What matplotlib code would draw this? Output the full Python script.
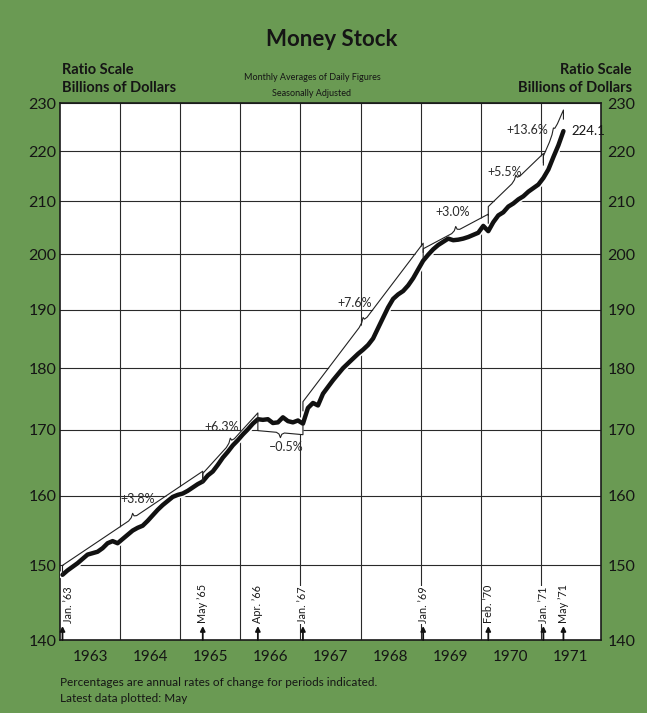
import numpy as np
import matplotlib
matplotlib.use("Agg")
import matplotlib.pyplot as plt
from matplotlib.ticker import FixedLocator, NullLocator, FixedFormatter
import matplotlib.transforms as mtransforms
import matplotlib.patheffects as pe

plt.rcParams['font.family'] = ['Lato', 'DejaVu Sans']

# ---------------- data ----------------
start_year = 1963
# Money stock, billions of dollars, monthly Jan 1963 .. May 1971
money_stock = [
    # 1963
    148.7, 149.3, 149.8, 150.3, 150.9, 151.5, 151.7, 151.9, 152.4, 153.1, 153.4, 153.1,
    # 1964
    153.7, 154.3, 154.9, 155.3, 155.6, 156.3, 157.1, 157.9, 158.6, 159.2, 159.8, 160.1,
    # 1965
    160.3, 160.7, 161.2, 161.7, 162.1, 163.0, 163.6, 164.6, 165.7, 166.6, 167.6, 168.4,
    # 1966
    169.3, 170.1, 171.0, 171.7, 171.6, 171.7, 171.1, 171.2, 172.0, 171.4, 171.2, 171.5,
    # 1967
    171.0, 173.5, 174.3, 173.9, 175.8, 176.9, 178.0, 179.0, 180.0, 180.8, 181.6, 182.4,
    # 1968
    183.1, 183.9, 185.0, 186.8, 188.6, 190.4, 191.9, 192.7, 193.3, 194.3, 195.6, 197.2,
    # 1969
    198.8, 199.9, 200.9, 201.7, 202.3, 202.9, 202.6, 202.7, 202.9, 203.2, 203.6, 204.0,
    # 1970
    205.3, 204.3, 206.0, 207.3, 207.9, 209.0, 209.6, 210.4, 211.0, 211.9, 212.6, 213.3,
    # 1971
    214.6, 216.3, 218.8, 221.2, 224.1,
]
# month index (from Jan 1963) of the period boundaries
period_bounds = [0, 28, 39, 48, 72, 85, 96, 100]
period_labels = ["Jan. \u201963", "May \u201965", "Apr. \u201966", "Jan. \u201967",
                 "Jan. \u201969", "Feb. \u201970", "Jan. \u201971", "May \u201971"]
# annual rates of change for the periods
period_rates = [3.8, 6.3, -0.5, 7.6, 3.0, 5.5, 13.6]
# level of trend line at start of each period
trend_start = [150.0, 163.3, 169.9, 174.5, 201.0, 209.0, 219.0]
years = [1963, 1964, 1965, 1966, 1967, 1968, 1969, 1970, 1971]
y_ticks = [140, 150, 160, 170, 180, 190, 200, 210, 220, 230]
latest_label = "224.1"

# ---------------- layout ----------------
W, H = 647, 713
fig = plt.figure(figsize=(W / 100, H / 100), dpi=100)
green = '#6a9a53'
fig.patch.set_facecolor(green)

ax_l, ax_r, ax_t, ax_b = 60, 601, 103, 640
ax = fig.add_axes([ax_l / W, 1 - ax_b / H, (ax_r - ax_l) / W, (ax_b - ax_t) / H])
ax.set_facecolor('white')
ax.set_yscale('log')
ax.set_ylim(140, 230)
ax.set_xlim(1963, 1972)

px_per_log = (ax_b - ax_t) / np.log(230 / 140)
px_per_year = (ax_r - ax_l) / 9.0

vals = np.array(money_stock)
t = start_year + (np.arange(len(vals)) + 0.5) / 12.0

# grid
ax.set_axisbelow(True)
ax.yaxis.set_major_locator(FixedLocator(y_ticks))
ax.yaxis.set_major_formatter(FixedFormatter([str(v) for v in y_ticks]))
ax.yaxis.set_minor_locator(NullLocator())
ax.xaxis.set_major_locator(FixedLocator([y + 0.5 for y in years]))
ax.xaxis.set_major_formatter(FixedFormatter([str(y) for y in years]))
ax.xaxis.set_minor_locator(FixedLocator(list(range(1964, 1972))))
ax.grid(which='minor', axis='x', color='#2a2a2a', lw=0.8)
ax.grid(which='major', axis='y', color='#2a2a2a', lw=0.8)
ax.grid(which='major', axis='x', visible=False)
ax.tick_params(axis='x', which='both', length=0, pad=7, labelsize=11, colors='#151515')
ax.tick_params(axis='y', which='both', length=0, pad=2.5, labelsize=11.5, colors='#151515',
               labelleft=True, labelright=False)
for s in ax.spines.values():
    s.set_color('#1a1a1a')
    s.set_linewidth(1.2)

ax2 = ax.twinx()
ax2.set_yscale('log')
ax2.set_ylim(140, 230)
ax2.yaxis.set_major_locator(FixedLocator(y_ticks))
ax2.yaxis.set_major_formatter(FixedFormatter([str(v) for v in y_ticks]))
ax2.yaxis.set_minor_locator(NullLocator())
ax2.tick_params(axis='y', which='both', length=0, pad=4.5, labelsize=11.5, colors='#151515')
for s in ax2.spines.values():
    s.set_visible(False)

# ---------------- braces ----------------
label_offsets = [(5, 19), (-9, 16), (6, -14), (-8, 19), (-3, 19), (-11, 8), (-26, 3)]

for k, rate in enumerate(period_rates):
    i0, i1 = period_bounds[k], period_bounds[k + 1]
    t0, t1 = t[i0], t[i1]
    dt = t1 - t0
    v0 = trend_start[k]
    v1 = v0 * (1 + rate / 100.0) ** dt
    up = rate >= 0
    sgn = 1 if up else -1
    line = lambda tt: v0 * (v1 / v0) ** ((tt - t0) / dt)
    fpx = lambda n: np.exp(sgn * n / px_per_log)
    # white fill between trend and data
    seg_t = t[i0:i1 + 1]
    ax.fill_between(seg_t, vals[i0:i1 + 1], line(seg_t), color='white', lw=0, zorder=1)
    # brace path
    tm = 0.5 * (t0 + t1)
    w = 4.0 / px_per_year
    bt = [t0, t0, tm - w, tm - w * 0.35, tm, tm + w * 0.35, tm + w, t1, t1]
    bv = [v0 * fpx(-9), v0, line(tm - w), line(tm - w * 0.35) * fpx(1.5),
          line(tm) * fpx(5), line(tm + w * 0.35) * fpx(1.5), line(tm + w), v1, v1 * fpx(-9)]
    ax.plot(bt, bv, color='#222222', lw=0.8, zorder=4, solid_joinstyle='round')
    lab = ('+' if up else '\u2013') + f"{abs(rate):.1f}%"
    dx, dy = label_offsets[k]
    ax.annotate(lab, xy=(tm, line(tm)), xytext=(dx, dy), textcoords='offset pixels',
                ha='center', va='center', fontsize=9, color='#2a2a2a', zorder=6)

# data line
ax.plot(t, vals, color='#111111', lw=3.2, zorder=3, solid_joinstyle='round',
        solid_capstyle='round',
        path_effects=[pe.Stroke(linewidth=5.5, foreground='white'), pe.Normal()])
ax.annotate(latest_label, xy=(t[-1], vals[-1]), xytext=(8, 0), textcoords='offset pixels',
            ha='left', va='center', fontsize=9.5, color='#151515', zorder=6)

# arrows at period boundaries
blend = mtransforms.blended_transform_factory(ax.transData, ax.transAxes)
for j, idx in enumerate(period_bounds):
    x = t[idx]
    ax.annotate('', xy=(x, 0.026), xytext=(x, 0.0), xycoords=blend, textcoords=blend,
                arrowprops=dict(arrowstyle='-|>', color='#111111', lw=1.3,
                                mutation_scale=7, shrinkA=0, shrinkB=0), zorder=5)
    ax.text(x, 0.031, period_labels[j], transform=blend, rotation=90,
            ha='left' if j == 0 else 'center', va='bottom', fontsize=7.8, color='#1a1a1a',
            zorder=5, bbox=dict(boxstyle='square,pad=0.1', fc='white', ec='none'))

# ---------------- texts ----------------
fig.text(332 / W, 1 - 40 / H, 'Money Stock', ha='center', va='center',
         fontsize=16, fontweight='bold', color='#151515')
for yy, s in [(70, 'Ratio Scale'), (88, 'Billions of Dollars')]:
    fig.text(62 / W, 1 - yy / H, s, ha='left', va='center', fontsize=10.5,
             fontweight='bold', color='#151515')
    fig.text(632 / W, 1 - yy / H, s, ha='right', va='center', fontsize=10.5,
             fontweight='bold', color='#151515')
fig.text(312 / W, 1 - 77 / H, 'Monthly Averages of Daily Figures', ha='center',
         va='center', fontsize=6.5, color='#151515')
fig.text(312 / W, 1 - 94 / H, 'Seasonally Adjusted', ha='center', va='center',
         fontsize=6.5, color='#151515')
fig.text(60 / W, 1 - 683 / H, 'Percentages are annual rates of change for periods indicated.',
         ha='left', va='center', fontsize=8.5, color='#151515')
fig.text(60 / W, 1 - 699 / H, 'Latest data plotted: May', ha='left', va='center',
         fontsize=8.5, color='#151515')

fig.savefig('out.png', dpi=100, facecolor=fig.get_facecolor())
